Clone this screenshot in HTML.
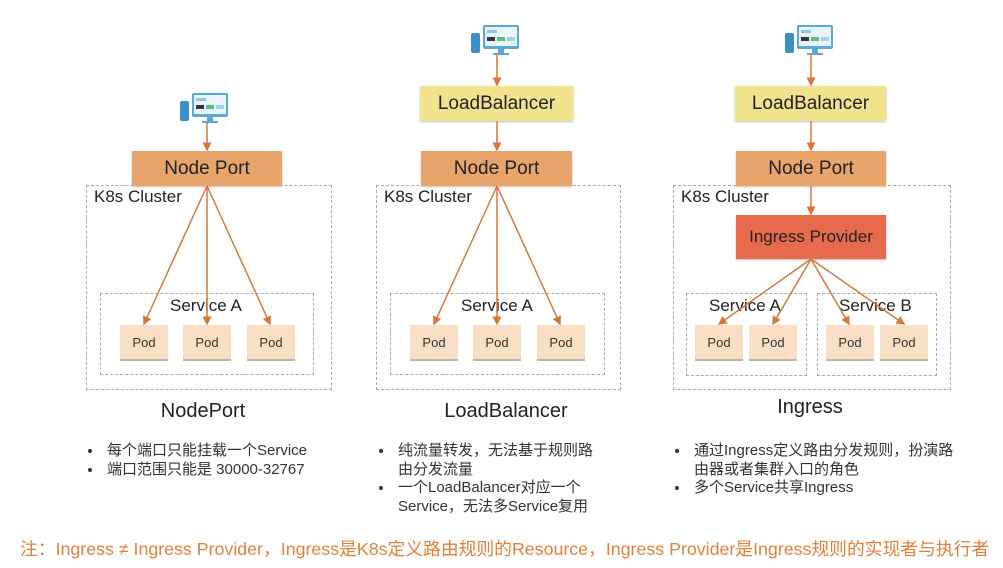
<!DOCTYPE html>
<html><head><meta charset="utf-8"><style>
body{margin:0;width:1003px;height:568px;background:#fff;position:relative;overflow:hidden;font-family:"Liberation Sans","Noto Sans CJK SC",sans-serif;color:#222}
.a{position:absolute}
.box{position:absolute;display:flex;align-items:center;justify-content:center;font-size:19px;color:#222;box-shadow:0 1px 2px rgba(0,0,0,.25)}
.np{background:#e9a46b}
.lb{background:#f1e38d}
.ip{background:#e86a4c}
.pod{position:absolute;width:48px;height:34px;background:#f8dfc6;display:flex;align-items:center;justify-content:center;font-size:13px;color:#333;border-bottom:2px solid #c9b39c}
.dash{position:absolute;border:1px dashed #aaa;box-sizing:border-box}
.lbl{position:absolute;font-size:17px}
.ttl{position:absolute;font-size:20px;text-align:center}
ul{position:absolute;margin:0;padding-left:18px;font-size:15px;line-height:18.5px;color:#333}
li{padding-left:4px}
</style></head><body>
<!-- panel 1 -->
<div class="dash" style="left:86px;top:185px;width:246px;height:205px"></div>
<div class="dash" style="left:100px;top:293px;width:214px;height:82px"></div>
<div class="lbl" style="left:94px;top:187px">K8s Cluster</div>
<div class="lbl" style="left:170px;top:296px">Service A</div>
<div class="box np" style="left:132px;top:151px;width:150px;height:35px">Node Port</div>
<div class="pod" style="left:120px;top:325px">Pod</div>
<div class="pod" style="left:183px;top:325px">Pod</div>
<div class="pod" style="left:247px;top:325px">Pod</div>
<div class="ttl" style="left:103px;top:400px;width:200px">NodePort</div>
<ul style="left:85px;top:442px;width:260px"><li>每个端口只能挂载一个Service</li><li>端口范围只能是 30000-32767</li></ul>

<!-- panel 2 -->
<div class="dash" style="left:376px;top:185px;width:245px;height:205px"></div>
<div class="dash" style="left:390px;top:293px;width:215px;height:82px"></div>
<div class="lbl" style="left:384px;top:187px">K8s Cluster</div>
<div class="lbl" style="left:461px;top:296px">Service A</div>
<div class="box lb" style="left:420px;top:86px;width:153px;height:35px">LoadBalancer</div>
<div class="box np" style="left:421px;top:151px;width:151px;height:35px">Node Port</div>
<div class="pod" style="left:410px;top:325px">Pod</div>
<div class="pod" style="left:473px;top:325px">Pod</div>
<div class="pod" style="left:537px;top:325px">Pod</div>
<div class="ttl" style="left:406px;top:400px;width:200px">LoadBalancer</div>
<ul style="left:376px;top:442px;width:218px"><li>纯流量转发，无法基于规则路<br>由分发流量</li><li>一个LoadBalancer对应一个<br>Service，无法多Service复用</li></ul>

<!-- panel 3 -->
<div class="dash" style="left:673px;top:185px;width:278px;height:205px"></div>
<div class="dash" style="left:686px;top:293px;width:121px;height:83px"></div>
<div class="dash" style="left:817px;top:293px;width:120px;height:83px"></div>
<div class="lbl" style="left:681px;top:187px">K8s Cluster</div>
<div class="lbl" style="left:709px;top:296px">Service A</div>
<div class="lbl" style="left:839px;top:296px">Service B</div>
<div class="box lb" style="left:735px;top:86px;width:151px;height:35px">LoadBalancer</div>
<div class="box np" style="left:736px;top:151px;width:150px;height:35px">Node Port</div>
<div class="box ip" style="left:736px;top:215px;width:150px;height:44px;font-size:17px">Ingress Provider</div>
<div class="pod" style="left:695px;top:325px">Pod</div>
<div class="pod" style="left:749px;top:325px">Pod</div>
<div class="pod" style="left:826px;top:325px">Pod</div>
<div class="pod" style="left:880px;top:325px">Pod</div>
<div class="ttl" style="left:710px;top:396px;width:200px">Ingress</div>
<ul style="left:672px;top:442px;width:320px"><li>通过Ingress定义路由分发规则，扮演路<br>由器或者集群入口的角色</li><li>多个Service共享Ingress</li></ul>

<div class="a" style="left:20px;top:535px;font-size:17.8px;color:#e5803a;white-space:nowrap">注：Ingress ≠ Ingress Provider，Ingress是K8s定义路由规则的Resource，Ingress Provider是Ingress规则的实现者与执行者</div>

<svg class="a" style="left:0;top:0" width="1003" height="568">
<defs><marker id="m" markerWidth="6" markerHeight="6" refX="5" refY="3" orient="auto"><path d="M0,0L6,3L0,6z" fill="#d9773a"/></marker>
<g id="ic"><rect x="0" y="8" width="9" height="20" rx="2" fill="#3a8fc4"/><rect x="12" y="0" width="36" height="24" rx="2" fill="#5aa8d8"/><rect x="14" y="2" width="32" height="19" fill="#eaf4fb"/><rect x="16" y="5" width="10" height="3" fill="#8cc6ea"/><rect x="16" y="12" width="8" height="4" fill="#334"/><rect x="26" y="12" width="8" height="4" fill="#5cbf7a"/><rect x="36" y="12" width="8" height="4" fill="#9fd0ef"/><rect x="27" y="24" width="6" height="4" fill="#5aa8d8"/><rect x="22" y="28" width="16" height="2" fill="#5aa8d8"/></g></defs>
<g stroke="#d9773a" stroke-width="1.5" fill="none" marker-end="url(#m)">
<line x1="207" y1="122" x2="207" y2="150"/>
<line x1="207" y1="186" x2="144" y2="324"/><line x1="207" y1="186" x2="207" y2="324"/><line x1="207" y1="186" x2="270" y2="324"/>
<line x1="497" y1="55" x2="497" y2="85"/><line x1="497" y1="121" x2="497" y2="150"/>
<line x1="497" y1="186" x2="434" y2="324"/><line x1="497" y1="186" x2="497" y2="324"/><line x1="497" y1="186" x2="560" y2="324"/>
<line x1="811" y1="55" x2="811" y2="85"/><line x1="811" y1="121" x2="811" y2="150"/><line x1="811" y1="186" x2="811" y2="214"/>
<line x1="811" y1="259" x2="719" y2="324"/><line x1="811" y1="259" x2="773" y2="324"/><line x1="811" y1="259" x2="849" y2="324"/><line x1="811" y1="259" x2="904" y2="324"/>
</g>
<use href="#ic" x="180" y="93"/>
<use href="#ic" x="471" y="25"/>
<use href="#ic" x="785" y="25"/>
</svg>
</body></html>
